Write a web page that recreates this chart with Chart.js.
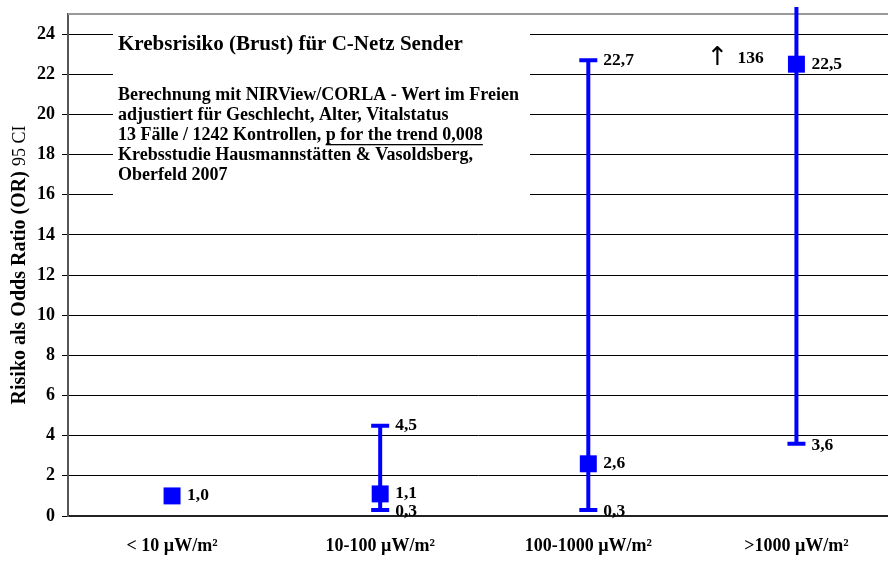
<!DOCTYPE html>
<html>
<head>
<meta charset="utf-8">
<script src="https://cdn.jsdelivr.net/npm/chart.js@4"></script>
<style>
  html, body { margin: 0; padding: 0; background: #fff; overflow: hidden; }
</style>
</head>
<body>
<canvas id="chart" width="888" height="578"></canvas>
<script>
const categories = ["< 10 µW/m²", "10-100 µW/m²", "100-1000 µW/m²", ">1000 µW/m²"];
const oddsRatio = [1.0, 1.1, 2.6, 22.5];
const ciLower = [null, 0.3, 0.3, 3.6];
const ciUpper = [null, 4.5, 22.7, 136];
const yTicks = [0, 2, 4, 6, 8, 10, 12, 14, 16, 18, 20, 22, 24];

const boxTitle = "Krebsrisiko (Brust) für C-Netz Sender";
const boxLines = [
  "Berechnung mit NIRView/CORLA - Wert im Freien",
  "adjustiert für Geschlecht, Alter, Vitalstatus",
  "13 Fälle / 1242 Kontrollen, ",
  "Krebsstudie Hausmannstätten & Vasoldsberg,",
  "Oberfeld 2007"
];
const underlined = "p for the trend 0,008";

const serif = '"Liberation Serif", "Times New Roman", serif';
const blue = "#0000ff";
const fmt = v => v.toFixed(1).replace(".", ",");

const errorBars = {
  id: "errorBars",
  beforeDatasetsDraw(chart) {
    const { ctx, chartArea } = chart;
    const x = chart.scales.x, y = chart.scales.y;
    ctx.save();
    ctx.strokeStyle = blue;
    ctx.lineWidth = 4;
    ciLower.forEach((lo, i) => {
      if (lo == null) return;
      const px = x.getPixelForValue(i);
      const yLo = y.getPixelForValue(lo);
      const hiRaw = y.getPixelForValue(ciUpper[i]);
      const clipped = hiRaw < chartArea.top - 7;
      const yHi = clipped ? chartArea.top - 7 : hiRaw;
      ctx.beginPath();
      ctx.moveTo(px, yLo); ctx.lineTo(px, yHi);
      ctx.moveTo(px - 9, yLo); ctx.lineTo(px + 9, yLo);
      if (!clipped) { ctx.moveTo(px - 9, yHi); ctx.lineTo(px + 9, yHi); }
      ctx.stroke();
    });
    ctx.restore();
  },
  afterDatasetsDraw(chart) {
    const { ctx } = chart;
    const x = chart.scales.x, y = chart.scales.y;
    ctx.save();
    ctx.fillStyle = "#000";
    ctx.font = "bold 17.5px " + serif;
    ctx.textBaseline = "middle";
    ctx.textAlign = "left";
    oddsRatio.forEach((v, i) => {
      const px = x.getPixelForValue(i) + 15;
      ctx.fillText(fmt(v), px, y.getPixelForValue(v));
      if (ciLower[i] != null) {
        ctx.fillText(fmt(ciLower[i]), px, y.getPixelForValue(ciLower[i]) + 2);
        if (ciUpper[i] < y.max) ctx.fillText(fmt(ciUpper[i]), px, y.getPixelForValue(ciUpper[i]));
      }
    });
    // upper limit beyond the axis
    const last = ciUpper.length - 1;
    const cx = x.getPixelForValue(last);
    ctx.font = "26px 'DejaVu Sans'";
    ctx.fillText("↑", cx - 90, y.getPixelForValue(22.8));
    ctx.font = "bold 17.5px " + serif;
    ctx.fillText(String(ciUpper[last]), cx - 59, y.getPixelForValue(22.8));
    ctx.restore();
  }
};

const decorations = {
  id: "decorations",
  beforeDatasetsDraw(chart) {
    const { ctx, chartArea } = chart;
    ctx.save();
    // top border of the plot area
    ctx.strokeStyle = "#999";
    ctx.lineWidth = 2;
    ctx.beginPath();
    ctx.moveTo(chartArea.left, chartArea.top);
    ctx.lineTo(chartArea.right, chartArea.top);
    ctx.stroke();
    // text box
    ctx.fillStyle = "#fff";
    ctx.fillRect(113, 22, 417, 190);
    ctx.fillStyle = "#000";
    ctx.textBaseline = "alphabetic";
    ctx.textAlign = "left";
    ctx.font = "bold 21px " + serif;
    ctx.fillText(boxTitle, 118, 50);
    ctx.font = "bold 18px " + serif;
    boxLines.forEach((t, i) => ctx.fillText(t, 118, 100 + i * 20));
    const w = ctx.measureText(boxLines[2]).width;
    ctx.fillText(underlined, 118 + w, 140);
    const uw = ctx.measureText(underlined).width;
    ctx.fillRect(118 + w, 144, uw, 1.3);
    // y axis title
    ctx.translate(25, (chartArea.top + chartArea.bottom) / 2);
    ctx.rotate(-Math.PI / 2);
    const main = "Risiko als Odds Ratio (OR) ";
    const tail = "95 CI";
    ctx.font = "bold 20px " + serif;
    const mw = ctx.measureText(main).width;
    ctx.font = "18px " + serif;
    const tw = ctx.measureText(tail).width;
    const sx = -(mw + tw) / 2;
    ctx.font = "bold 20px " + serif;
    ctx.fillText(main, sx, 0);
    ctx.font = "18px " + serif;
    ctx.fillText(tail, sx + mw, 0);
    ctx.restore();
  }
};

new Chart(document.getElementById("chart"), {
  type: "line",
  data: {
    datasets: [{
      data: oddsRatio.map((v, i) => ({ x: i, y: v })),
      showLine: false,
      pointStyle: "rect",
      pointRadius: 12,
      pointHoverRadius: 12,
      backgroundColor: blue,
      borderColor: blue,
      borderWidth: 0
    }]
  },
  options: {
    responsive: false,
    animation: false,
    layout: { autoPadding: false, padding: { top: 14, left: 0, right: 0, bottom: 0 } },
    plugins: { legend: { display: false }, tooltip: { enabled: false } },
    scales: {
      x: {
        type: "linear",
        min: -0.5,
        max: 3.44,
        afterFit: s => { s.height = 62; s.paddingLeft = 0; s.paddingRight = 0; },
        afterBuildTicks: s => { s.ticks = categories.map((_, i) => ({ value: i })); },
        grid: { display: false, drawTicks: false },
        border: { display: true, color: "#222", width: 2 },
        ticks: {
          color: "#000",
          padding: 20,
          maxRotation: 0,
          callback: v => categories[v],
          font: { family: serif, size: 18, weight: "bold" }
        }
      },
      y: {
        min: 0,
        max: 25,
        afterFit: s => { s.width = 68; s.paddingTop = 0; s.paddingBottom = 0; },
        afterBuildTicks: s => { s.ticks = yTicks.map(v => ({ value: v })); },
        grid: { color: "#000", lineWidth: 1, tickLength: 6, drawTicks: true },
        border: { display: true, color: "#555", width: 2 },
        ticks: {
          color: "#000",
          padding: 7,
          font: { family: serif, size: 18, weight: "bold" }
        }
      }
    }
  },
  plugins: [decorations, errorBars]
});
</script>
</body>
</html>
